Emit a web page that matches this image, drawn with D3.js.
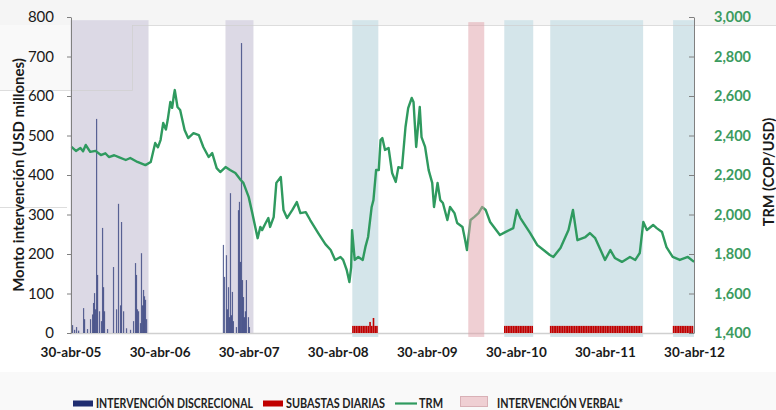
<!DOCTYPE html>
<html><head><meta charset="utf-8">
<script src="https://cdn.jsdelivr.net/npm/d3@7"></script>
<style>body{margin:0;background:#fff;} svg{display:block;font-family:Lato,"Open Sans",sans-serif;}</style>
</head><body><svg id="c" width="776" height="410"></svg>
<script>
// ---------- data ----------
const xTickTimes = [2005.329, 2006.329, 2007.329, 2008.329, 2009.329, 2010.329, 2011.329, 2012.329];
const xTickLabels = ["30-abr-05","30-abr-06","30-abr-07","30-abr-08","30-abr-09","30-abr-10","30-abr-11","30-abr-12"];
const leftTicks = [0,100,200,300,400,500,600,700,800];
const rightTicks = [1400,1600,1800,2000,2200,2400,2600,2800,3000];

const trmTime = [2005.34,2005.39,2005.44,2005.47,2005.50,2005.55,2005.61,2005.67,2005.72,2005.76,2005.82,2005.87,2005.95,2006.00,2006.08,2006.17,2006.23,2006.28,2006.31,2006.34,2006.37,2006.40,2006.42,2006.45,2006.47,2006.49,2006.50,2006.53,2006.56,2006.61,2006.65,2006.71,2006.77,2006.82,2006.88,2006.92,2006.97,2007.01,2007.07,2007.12,2007.18,2007.24,2007.27,2007.33,2007.37,2007.43,2007.46,2007.48,2007.52,2007.55,2007.57,2007.61,2007.64,2007.69,2007.72,2007.76,2007.82,2007.87,2007.91,2007.97,2008.02,2008.11,2008.19,2008.25,2008.30,2008.36,2008.39,2008.43,2008.46,2008.48,2008.49,2008.52,2008.56,2008.61,2008.64,2008.67,2008.71,2008.73,2008.76,2008.79,2008.81,2008.83,2008.86,2008.90,2008.94,2008.98,2009.01,2009.05,2009.09,2009.12,2009.16,2009.18,2009.21,2009.25,2009.27,2009.31,2009.35,2009.39,2009.41,2009.45,2009.48,2009.51,2009.56,2009.59,2009.64,2009.67,2009.73,2009.76,2009.78,2009.82,2009.86,2009.91,2009.95,2009.99,2010.04,2010.15,2010.21,2010.30,2010.34,2010.38,2010.49,2010.57,2010.64,2010.71,2010.75,2010.83,2010.92,2010.97,2011.02,2011.11,2011.16,2011.22,2011.28,2011.33,2011.39,2011.44,2011.52,2011.61,2011.67,2011.72,2011.76,2011.80,2011.87,2011.91,2011.97,2012.02,2012.09,2012.17,2012.26,2012.33];
const trmValue = [2342,2322,2337,2320,2352,2317,2322,2301,2310,2291,2300,2291,2276,2286,2266,2250,2266,2362,2340,2377,2463,2430,2478,2570,2540,2605,2630,2544,2529,2428,2387,2412,2402,2342,2291,2311,2235,2215,2240,2225,2210,2175,2160,2088,2007,1880,1937,1921,1957,1982,1937,1987,2160,2190,2023,1982,2023,2063,2007,2012,1972,1906,1850,1820,1770,1785,1770,1719,1658,1734,1921,1770,1785,1770,1836,1886,2038,2073,2225,2225,2377,2387,2327,2337,2210,2165,2240,2235,2443,2539,2590,2570,2342,2544,2392,2342,2225,2160,2038,2160,2073,2058,1972,2038,2007,1957,1937,1870,1820,1972,1987,2007,2038,2023,1962,1896,1911,1931,2023,1982,1906,1845,1820,1795,1785,1830,1921,2023,1870,1886,1906,1880,1820,1770,1820,1780,1760,1785,1770,1805,1962,1921,1947,1931,1911,1835,1785,1770,1785,1760];

const discTime = [2005.352,2005.375,2005.397,2005.420,2005.476,2005.487,2005.520,2005.554,2005.577,2005.588,2005.599,2005.610,2005.622,2005.633,2005.655,2005.677,2005.689,2005.700,2005.711,2005.745,2005.812,2005.846,2005.868,2005.891,2005.902,2005.925,2005.958,2006.003,2006.037,2006.059,2006.070,2006.081,2006.093,2006.115,2006.126,2006.138,2006.149,2006.160,2006.171,2006.183,
  2007.046,2007.058,2007.080,2007.091,2007.103,2007.114,2007.125,2007.136,2007.147,2007.158,2007.192,2007.215,2007.226,2007.237,2007.249,2007.260,2007.271,2007.282,2007.293,2007.304,2007.327,2007.338];
const discValue = [20,8,15,6,63,35,10,35,47,76,101,60,542,147,55,30,266,116,55,10,167,60,327,70,281,55,12,8,30,177,147,60,55,25,202,70,109,93,84,35,
  223,142,197,60,116,40,354,45,104,30,15,311,332,180,734,134,91,40,55,134,40,15];

const discPeriods = [[2005.329,2006.205],[2007.069,2007.383]];
const subastaPeriods = [[2008.493,2008.785],[2010.199,2010.524],[2010.715,2011.758],[2012.094,2012.329]];
const verbalPeriods = [[2009.795,2009.974]];

const subastaStart = [2008.500, 2010.205, 2010.720, 2012.100];
const subastaA = [18,18,18,18,18,18,18,18,18,18,28,18,38,18,18];
const subastaB = [18,18,18,18,18,18,18,18,18,18,18,18,18,18,18,18,18];
const subastaC = [18,18,18,18,18,18,18,18,18,18,18,18,18,18,18,18,18,18,18,18,18,18,18,18,18,18,18,18,18,18,18,18,18,18,18,18,18,18,18,18,18,18,18,18,18,18,18,18,18,18,18,18,18,18];
const subastaD = [18,18,18,18,18,18,18,18,18,18,18,18];
const subastaValues = [subastaA, subastaB, subastaC, subastaD];

const legendLabels = ["INTERVENCIÓN DISCRECIONAL","SUBASTAS DIARIAS","TRM","INTERVENCIÓN VERBAL*"];

// ---------- drawing ----------
const svg = d3.select("#c");
const x = d3.scaleLinear().domain([2005.329, 2012.329]).range([70.5, 694]);
const yL = d3.scaleLinear().domain([0, 800]).range([333, 17]);
const yR = d3.scaleLinear().domain([1400, 3000]).range([333, 17]);

// faint background artefacts
svg.append("rect").attr("x",0).attr("y",0).attr("width",776).attr("height",25).attr("fill","#f5f5f5");
svg.append("rect").attr("x",0).attr("y",25).attr("width",132).attr("height",65).attr("fill","#f9f9f9");
svg.append("rect").attr("x",0).attr("y",372).attr("width",776).attr("height",38).attr("fill","#f9f9f9");

// shaded periods
svg.append("g").selectAll("rect").data(discPeriods).join("rect")
  .attr("x", d=>x(d[0])).attr("width", d=>x(d[1])-x(d[0]))
  .attr("y", yL(792)).attr("height", yL(0)-yL(792)).attr("fill","#dcd9e5");
svg.append("g").selectAll("rect").data(subastaPeriods).join("rect")
  .attr("x", d=>x(d[0])).attr("width", d=>x(d[1])-x(d[0]))
  .attr("y", yL(792)).attr("height", yL(-10)-yL(792)).attr("fill","#d4e5ea");

// artefact lines
svg.append("path").attr("d","M132,25.5H776M132.5,25V90.5H0M0,207.5H67").attr("fill","none")
  .attr("stroke","#cfcfcf").attr("stroke-opacity",0.7);

// baseline
svg.append("line").attr("x1",70).attr("x2",694).attr("y1",yL(0)+0.5).attr("y2",yL(0)+0.5)
  .attr("stroke","#d0d0d0").attr("stroke-width",1.5);

// discretionary bars
svg.append("g").selectAll("rect").data(discTime.map((t,i)=>({t, v:discValue[i]}))).join("rect")
  .attr("x", d=>x(d.t)-0.6).attr("width",1.2)
  .attr("y", d=>yL(d.v)).attr("height", d=>yL(0)-yL(d.v))
  .attr("fill","#1f2d70").attr("fill-opacity",0.7);

// subastas bars
const subData = [];
subastaValues.forEach((arr,k)=>arr.forEach((v,j)=>subData.push({t: subastaStart[k] + j/52, v})));
svg.append("g").selectAll("rect").data(subData).join("rect")
  .attr("x", d=>x(d.t)-0.8).attr("width",1.6)
  .attr("y", d=>yL(d.v)).attr("height", d=>yL(0)-yL(d.v))
  .attr("fill","#c00000");

// TRM line
const line = d3.line().x(d=>x(d.t)).y(d=>yR(d.v));
svg.append("path").datum(trmTime.map((t,i)=>({t, v:trmValue[i]})))
  .attr("d", line).attr("fill","none").attr("stroke","#2f9a5f").attr("stroke-width",2.4)
  .attr("stroke-linejoin","round");

// verbal intervention (on top, translucent)
svg.append("g").selectAll("rect").data(verbalPeriods).join("rect")
  .attr("x", d=>x(d[0])).attr("width", d=>x(d[1])-x(d[0]))
  .attr("y", yL(787)).attr("height", yL(-10)-yL(787)).attr("fill","#df9fa7").attr("fill-opacity",0.5);

// axes
const gL = svg.append("g").attr("transform","translate(71,0)")
  .call(d3.axisLeft(yL).tickValues(leftTicks).tickSizeInner(4).tickSizeOuter(0).tickPadding(13));
gL.select(".domain").attr("stroke","#808080");
gL.selectAll(".tick line").attr("stroke","#808080");
gL.selectAll("text").attr("font-size",15).attr("fill","#1a1a1a").attr("font-family","Lato");

const gR = svg.append("g").attr("transform","translate(694,0)")
  .call(d3.axisRight(yR).tickValues(rightTicks).tickFormat(d3.format(",")).tickSizeInner(-5).tickSizeOuter(0).tickPadding(20));
gR.select(".domain").attr("stroke","#808080");
gR.selectAll(".tick line").attr("stroke","#808080");
gR.selectAll("text").attr("font-size",14.5).attr("font-weight","bold").attr("fill","#3c9b60").attr("font-family","Lato");

const gB = svg.append("g").attr("transform","translate(0,333)")
  .call(d3.axisBottom(x).tickValues(xTickTimes).tickFormat((d,i)=>xTickLabels[i]).tickSize(0).tickPadding(14));
gB.select(".domain").remove();
gB.selectAll("text").attr("font-size",13.5).attr("font-weight","bold").attr("fill","#1a1a1a").attr("font-family","Lato");

// axis titles
svg.append("text").attr("transform","translate(24,175) rotate(-90)").attr("text-anchor","middle")
  .attr("font-size",15).attr("font-weight","bold").attr("fill","#1a1a1a").text("Monto intervención (USD millones)");
svg.append("text").attr("transform","translate(774,172) rotate(-90)").attr("text-anchor","middle")
  .attr("font-size",14.5).attr("font-weight","bold").attr("fill","#1a1a1a").text("TRM (COP/USD)");

// legend
const lg = svg.append("g");
lg.append("rect").attr("x",73).attr("y",400.5).attr("width",20).attr("height",6).attr("fill","#1f2d70");
lg.append("rect").attr("x",263).attr("y",400.5).attr("width",20).attr("height",6).attr("fill","#c00000");
lg.append("line").attr("x1",395).attr("x2",417).attr("y1",403.5).attr("y2",403.5).attr("stroke","#2f9a5f").attr("stroke-width",2.2);
lg.append("rect").attr("x",460.5).attr("y",396.5).attr("width",27).attr("height",10).attr("fill","#efcfd3").attr("stroke","#d9b0b6");
const legX = [96, 286, 419, 497], legW = [157, 99, 24, 126];
legendLabels.forEach((s,i)=>{
  lg.append("text").attr("x",legX[i]).attr("y",408).attr("font-size",12.5).attr("font-weight","bold").attr("fill","#222")
    .attr("textLength",legW[i]).attr("lengthAdjust","spacingAndGlyphs").text(s);
});
</script></body></html>
